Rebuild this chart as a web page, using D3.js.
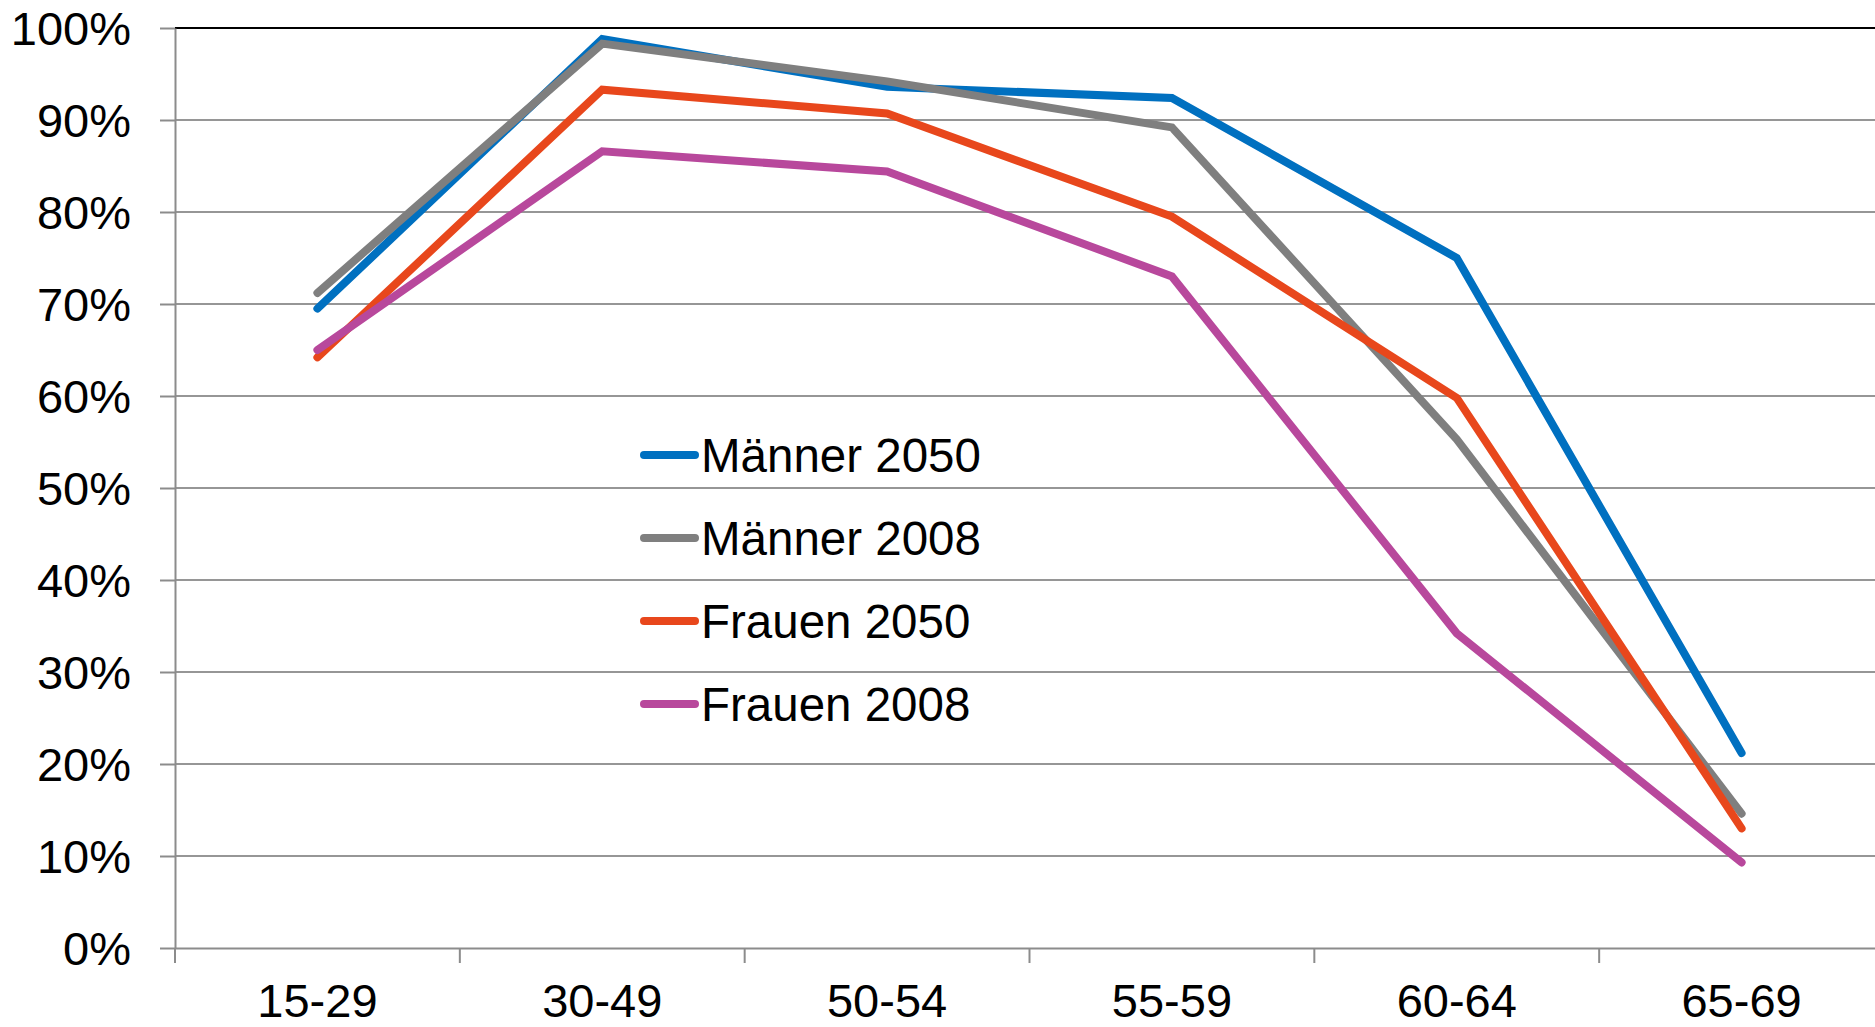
<!DOCTYPE html>
<html>
<head>
<meta charset="utf-8">
<script src="https://cdnjs.cloudflare.com/ajax/libs/d3/7.8.5/d3.min.js"></script>
<style>
  body { margin: 0; background: #fff; }
  svg { display: block; font-family: "Liberation Sans", Arial, sans-serif; }
  .grid line { stroke: #969696; stroke-width: 2px; }
  .axis path, .axis line { stroke: #8c8c8c; stroke-width: 2px; }
  .axis text { font-size: 47px; fill: #000; }
  .line { fill: none; stroke-width: 8px; stroke-linecap: round; stroke-linejoin: miter; }
  .legend text { font-size: 47.5px; fill: #000; }
</style>
</head>
<body>
<div id="chart"></div>
<script>
// age groups and participation rates (share, 0..1)
var categories = ["15-29", "30-49", "50-54", "55-59", "60-64", "65-69"];
var maenner2050 = [0.695, 0.988, 0.936, 0.924, 0.750, 0.212];
var maenner2008 = [0.712, 0.983, 0.942, 0.892, 0.553, 0.146];
var frauen2050  = [0.642, 0.933, 0.907, 0.795, 0.598, 0.130];
var frauen2008  = [0.650, 0.866, 0.844, 0.730, 0.342, 0.093];
var seriesNames = ["Männer 2050", "Männer 2008", "Frauen 2050", "Frauen 2008"];
var seriesColors = ["#0070c0", "#7f7f7f", "#e8471c", "#b8489c"];
var yTicks = [0, 0.1, 0.2, 0.3, 0.4, 0.5, 0.6, 0.7, 0.8, 0.9, 1.0];

var width = 1875, height = 1027;
var margin = {top: 28, left: 175, bottom: 79};
var plotRight = 1884; // plot runs a little past the window edge

var series = [maenner2050, maenner2008, frauen2050, frauen2008].map(function(vals, i) {
    return {
        id: seriesNames[i],
        color: seriesColors[i],
        values: vals.map(function(v, j) { return {cat: categories[j], value: v}; })
    };
});

var svg = d3.select("#chart").append("svg")
    .attr("width", width)
    .attr("height", height);

var xScale = d3.scaleBand().domain(categories).range([margin.left, plotRight]);
var yScale = d3.scaleLinear().domain([0, 1]).range([height - margin.bottom, margin.top]);

// horizontal gridlines
svg.append("g")
    .attr("class", "grid")
    .selectAll("line")
    .data(yTicks.filter(function(d) { return d > 0 && d < 1; }))
    .enter().append("line")
    .attr("x1", margin.left).attr("x2", plotRight)
    .attr("y1", function(d) { return yScale(d); })
    .attr("y2", function(d) { return yScale(d); });

// top border line (black)
svg.append("line")
    .attr("x1", margin.left).attr("x2", plotRight)
    .attr("y1", yScale(1)).attr("y2", yScale(1))
    .style("stroke", "#000").style("stroke-width", "2px");

// y axis
var yAxis = d3.axisLeft(yScale)
    .tickValues(yTicks)
    .tickFormat(d3.format(".0%"))
    .tickSizeInner(15)
    .tickSizeOuter(0)
    .tickPadding(29);
svg.append("g")
    .attr("class", "axis axis--y")
    .attr("transform", "translate(" + margin.left + ",0)")
    .call(yAxis)
    .selectAll("text").attr("dy", "0.36em");

// x axis: labels at band centers
var xAxis = d3.axisBottom(xScale).tickSizeInner(0).tickSizeOuter(0);
var gx = svg.append("g")
    .attr("class", "axis axis--x")
    .attr("transform", "translate(0," + yScale(0) + ")")
    .call(xAxis);
gx.selectAll("text").attr("y", 69).attr("dy", 0);

// boundary ticks between categories
var bounds = categories.map(function(c) { return xScale(c); }).concat([plotRight]);
gx.selectAll(".bound")
    .data(bounds)
    .enter().append("line")
    .attr("class", "bound")
    .attr("x1", function(d) { return d; }).attr("x2", function(d) { return d; })
    .attr("y1", 0).attr("y2", 15);

// lines
var line = d3.line()
    .x(function(d) { return xScale(d.cat) + xScale.bandwidth() / 2; })
    .y(function(d) { return yScale(d.value); });

svg.selectAll(".trend")
    .data(series)
    .enter().append("path")
    .attr("class", "line")
    .attr("d", function(d) { return line(d.values); })
    .style("stroke", function(d) { return d.color; });

// legend
var legend = svg.append("g")
    .attr("class", "legend")
    .attr("transform", "translate(640,455)");
var items = legend.selectAll("g")
    .data(series)
    .enter().append("g")
    .attr("transform", function(d, i) { return "translate(0," + (i * 83) + ")"; });
items.append("line")
    .attr("x1", 4).attr("x2", 55)
    .attr("y1", 0).attr("y2", 0)
    .style("stroke", function(d) { return d.color; })
    .style("stroke-width", "8px")
    .style("stroke-linecap", "round");
items.append("text")
    .attr("x", 61)
    .attr("y", 17)
    .text(function(d) { return d.id; });
</script>
</body>
</html>
